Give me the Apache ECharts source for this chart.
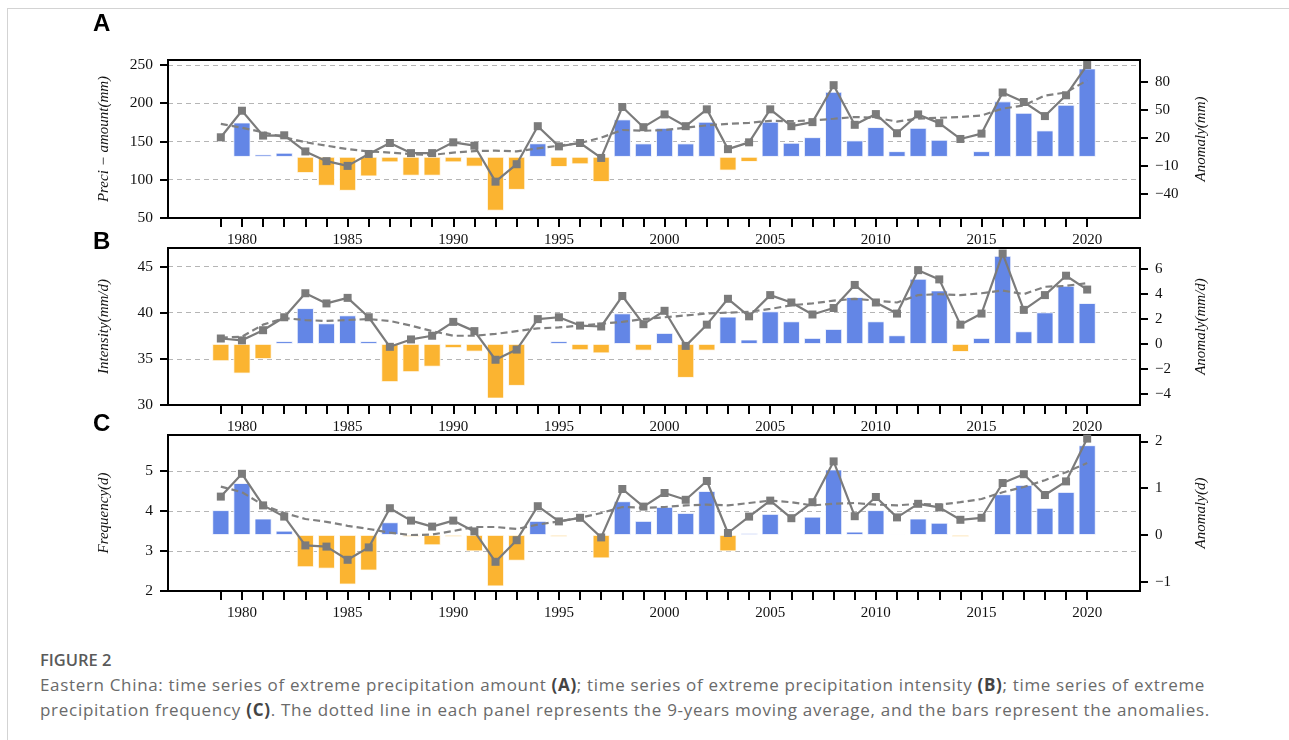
<!DOCTYPE html>
<html><head><meta charset="utf-8">
<script src="https://cdn.jsdelivr.net/npm/echarts@6/dist/echarts.min.js"></script>
<style>
html,body{margin:0;padding:0;background:#fff;}
#wrap{position:relative;width:1289px;height:740px;overflow:hidden;background:#fff;}
#frame{position:absolute;left:7px;top:8px;width:1300px;height:760px;border-top:1px solid #d3d3d3;border-left:1px solid #d3d3d3;}
#chart{position:absolute;left:0;top:0;width:1289px;height:640px;}
#cap{position:absolute;left:40px;top:647px;font-family:'Open Sans',sans-serif;color:#6a6a6a;font-size:17px;line-height:25px;white-space:nowrap;}
#cap .fig{font-weight:600;color:#5a5a5a;font-size:16.5px;}
#cap b{color:#444;font-weight:700;}
#cap span{display:inline-block;}
</style></head>
<body><div id="wrap"><div id="frame"></div><div id="chart"></div>
<div id="cap"><div class="fig">FIGURE 2</div><span id="l1">Eastern China: time series of extreme precipitation amount <b>(A)</b>; time series of extreme precipitation intensity <b>(B)</b>; time series of extreme</span><br><span id="l2">precipitation frequency <b>(C)</b>. The dotted line in each panel represents the 9-years moving average, and the bars represent the anomalies.</span></div>
</div>
<script>
const years = [1979,1980,1981,1982,1983,1984,1985,1986,1987,1988,1989,1990,1991,1992,1993,1994,1995,1996,1997,1998,1999,2000,2001,2002,2003,2004,2005,2006,2007,2008,2009,2010,2011,2012,2013,2014,2015,2016,2017,2018,2019,2020];
const yearLabels = [1980,1985,1990,1995,2000,2005,2010,2015,2020];

// Panel A: precipitation amount
const amountValue = [155.5,190.2,157.7,158.1,137.0,124.3,118.1,133.7,148.0,134.8,134.8,148.9,144.5,97.5,120.3,170.0,143.6,148.0,128.5,195.1,168.7,185.4,170.0,192.0,140.0,148.9,192.0,170.0,175.3,223.6,171.8,185.8,160.8,185.4,174.0,153.3,160.3,214.0,201.6,183.2,210.4,250.0];
const amountAnom = [0.7,36.7,2.5,4.3,-17.3,-30.9,-36.3,-20.9,-5.8,-20.1,-20.1,-5.8,-10.4,-57.6,-35.3,14.4,-10.8,-7.9,-26.9,40.0,14.3,31.0,14.3,37.5,-14.6,-5.4,37.5,15.0,21.0,69.6,17.5,31.8,6.0,31.0,18.2,-0.5,6.0,59.3,47.1,28.2,55.7,94.6];
const amountMA = [173,168,162,155.5,149,144.5,140,137,135.5,133.5,132.5,135.5,137.5,138,137,141,144.5,148,155,165,164,165,168,171,173,174.4,177,176.5,177.5,179.7,182,181,176,180,181,182,184,193,197,210,214,230];
const amountTicks = [50,100,150,200,250];
const amountAnomTicks = [-40,-10,20,50,80];

// Panel B: intensity
const intValue = [37.2,37.0,38.1,39.5,42.1,41.0,41.6,39.5,36.3,37.1,37.5,39.0,38.0,34.9,36.0,39.3,39.5,38.6,38.5,41.8,38.75,40.2,36.4,38.7,41.5,39.6,41.9,41.1,39.8,40.5,43.0,41.1,39.9,44.6,43.6,38.7,39.9,46.4,40.3,41.9,44.0,42.5];
const intAnom = [-1.38,-2.37,-1.21,0.22,2.87,1.65,2.29,0.22,-3.06,-2.26,-1.82,-0.33,-0.61,-4.38,-3.36,-0.05,0.22,-0.5,-0.75,2.45,-0.53,0.88,-2.72,-0.53,2.19,0.35,2.61,1.81,0.48,1.2,3.76,1.81,0.69,5.23,4.29,-0.64,0.48,7.07,1.01,2.53,4.67,3.28];
const intMA = [37.3,37.4,38.7,39.4,39.2,39.1,39.2,39.3,39.1,38.6,38.0,37.5,37.5,37.7,38.0,38.3,38.4,38.6,38.8,39.0,39.3,39.5,39.7,39.9,40.0,40.1,40.4,40.8,41.0,41.3,41.5,41.3,41.1,41.9,42.0,41.9,42.1,42.4,42.0,42.8,42.9,43.2];
const intTicks = [30,35,40,45];
const intAnomTicks = [-4,-2,0,2,4,6];

// Panel C: frequency
const freqValue = [4.36,4.93,4.14,3.86,3.14,3.11,2.78,3.09,4.07,3.76,3.61,3.76,3.49,2.73,3.27,4.12,3.74,3.83,3.34,4.55,4.11,4.45,4.28,4.75,3.45,3.86,4.26,3.82,4.22,5.24,3.87,4.35,3.84,4.18,4.09,3.78,3.83,4.7,4.92,4.4,4.74,5.81];
const freqAnom = [0.53,1.11,0.35,0.09,-0.69,-0.72,-1.06,-0.76,0.27,-0.04,-0.22,-0.04,-0.35,-1.1,-0.55,0.3,-0.04,0,-0.5,0.72,0.3,0.6,0.47,0.94,-0.35,0.04,0.45,0,0.39,1.4,0.07,0.53,0.02,0.35,0.26,-0.04,0.01,0.87,1.07,0.58,0.92,1.92];
const freqMA = [4.61,4.47,4.15,3.95,3.8,3.73,3.63,3.55,3.46,3.4,3.41,3.5,3.6,3.6,3.55,3.66,3.74,3.83,3.95,4.1,4.08,4.1,4.14,4.16,4.14,4.2,4.26,4.22,4.14,4.18,4.2,4.16,4.14,4.18,4.16,4.22,4.3,4.47,4.6,4.77,4.97,5.2];
const freqTicks = [2,3,4,5];
const freqAnomTicks = [-1,0,1,2];

const panels = [
  {letter:'A', top:60, height:158, value:amountValue, anom:amountAnom, ma:amountMA,
   lmin:50, lmax:256.5, lint:50, lticks:amountTicks, rmin:-65.5, rmax:103.7, rticks:amountAnomTicks,
   lname:'Preci − amount(mm)', rname:'Anomaly(mm)'},
  {letter:'B', top:248, height:157, value:intValue, anom:intAnom, ma:intMA,
   lmin:30, lmax:47, lint:5, lticks:intTicks, rmin:-4.9, rmax:7.7, rticks:intAnomTicks,
   lname:'Intensity(mm/d)', rname:'Anomaly(mm/d)'},
  {letter:'C', top:435, height:156, value:freqValue, anom:freqAnom, ma:freqMA,
   lmin:2, lmax:5.9, lint:1, lticks:freqTicks, rmin:-1.2, rmax:2.14, rticks:freqAnomTicks,
   lname:'Frequency(d)', rname:'Anomaly(d)'}
];

const BLUE = '#6386e6', ORANGE = '#fbb431', GRAY = '#7b7b7b';
const serif = "'Liberation Serif','DejaVu Serif',serif";
const minus = v => (v < 0 ? '\u2212' + Math.abs(v) : String(v));
const grid = [], xAxis = [], yAxis = [], series = [], graphic = [];
panels.forEach((p, i) => {
  grid.push({left:168, right:149, top:p.top, height:p.height, show:true, borderColor:'#000', borderWidth:2, backgroundColor:'transparent'});
  xAxis.push({type:'value', gridIndex:i, min:1976.5, max:2022.5, position:'bottom',
    axisLine:{show:true, onZero:false, lineStyle:{color:'#000', width:2}},
    axisTick:{show:true, customValues:years, length:9, lineStyle:{color:'#000', width:2}},
    axisLabel:{customValues:yearLabels, color:'#111', fontFamily:serif, fontSize:15, margin:15, formatter: v => String(v)},
    splitLine:{show:false}});
  yAxis.push({type:'value', gridIndex:i, position:'left', min:p.lmin, max:p.lmax, interval:p.lint,
    name:p.lname, nameLocation:'middle', nameRotate:90, nameGap:56,
    nameTextStyle:{fontFamily:serif, fontStyle:'italic', fontSize:15, color:'#111'},
    axisLine:{show:true, onZero:false, lineStyle:{color:'#000', width:2}},
    axisTick:{show:true, customValues:p.lticks, length:8, lineStyle:{color:'#000', width:2}},
    axisLabel:{customValues:p.lticks, color:'#111', fontFamily:serif, fontSize:15.5, margin:15, formatter: minus},
    splitLine:{show:true, lineStyle:{color:'#b5b5b5', width:1.2, type:[5,4]}}});
  yAxis.push({type:'value', gridIndex:i, position:'right', min:p.rmin, max:p.rmax,
    name:p.rname, nameLocation:'middle', nameRotate:90, nameGap:54,
    nameTextStyle:{fontFamily:serif, fontStyle:'italic', fontSize:15, color:'#111'},
    axisLine:{show:true, onZero:false, lineStyle:{color:'#000', width:2}},
    axisTick:{show:true, customValues:p.rticks, length:8, lineStyle:{color:'#000', width:2}},
    axisLabel:{customValues:p.rticks, color:'#111', fontFamily:serif, fontSize:15, margin:15, formatter: minus},
    splitLine:{show:false}});
  series.push({type:'bar', xAxisIndex:i, yAxisIndex:2*i+1, barWidth:17,
    data: years.map((y,k) => [y, p.anom[k]]),
    itemStyle:{color: q => q.value[1] >= 0 ? BLUE : ORANGE, borderColor:'#fff', borderWidth:0.8}});
  series.push({type:'line', xAxisIndex:i, yAxisIndex:2*i, data: years.map((y,k)=>[y, p.ma[k]]),
    symbol:'none', lineStyle:{color:'#808080', width:2.2, type:[7,4]}, z:3});
  series.push({type:'line', xAxisIndex:i, yAxisIndex:2*i, data: years.map((y,k)=>[y, p.value[k]]),
    symbol:'rect', symbolSize:8, itemStyle:{color:GRAY}, lineStyle:{color:GRAY, width:2.2}, z:4});
});
const letterFont = 'bold 24px Arial, "Liberation Sans", sans-serif';
graphic.push({type:'text', left:93, top:12, style:{text:'A', font:letterFont, fill:'#000'}});
graphic.push({type:'text', left:93, top:230, style:{text:'B', font:letterFont, fill:'#000'}});
graphic.push({type:'text', left:93, top:412, style:{text:'C', font:letterFont, fill:'#000'}});

const chart = echarts.init(document.getElementById('chart'), null, {renderer:'canvas'});
chart.setOption({animation:false, backgroundColor:'transparent', grid, xAxis, yAxis, series, graphic});

// fit caption lines to the reference widths
function fit(id, target){
  const el = document.getElementById(id);
  const n = el.textContent.length;
  const w = el.getBoundingClientRect().width;
  el.style.letterSpacing = ((target - w) / n).toFixed(3) + 'px';
}
fit('l1', 1165); fit('l2', 1170);
</script>
</body></html>
